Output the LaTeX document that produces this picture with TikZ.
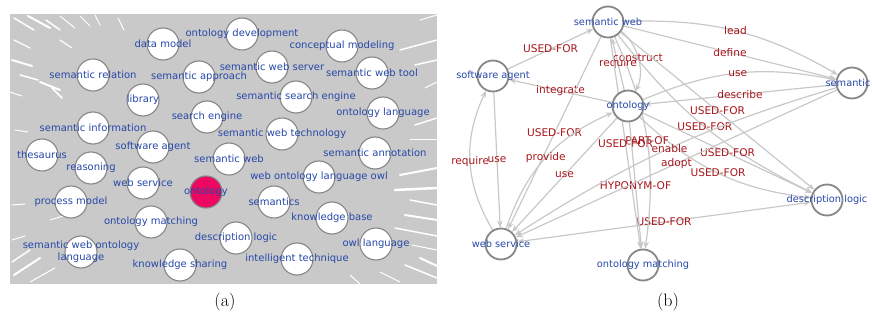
\documentclass[tikz,border=0pt]{standalone}
\usepackage{fontspec}
\newfontfamily\dv{DejaVu Sans}
\usetikzlibrary{arrows.meta,backgrounds}
\definecolor{bgray}{RGB}{201,201,201}
\definecolor{nblue}{RGB}{38,72,168}
\definecolor{lred}{RGB}{168,22,28}
\definecolor{egray}{RGB}{200,200,200}
\definecolor{cgray}{RGB}{135,135,135}
\definecolor{hotpink}{RGB}{236,8,96}
\begin{document}
\begin{tikzpicture}[x=1pt,y=1pt,
  anode/.style={circle, minimum size=32pt, inner sep=0pt, draw=cgray, line width=1.1pt, fill=white},
  atxt/.style={text=nblue, font=\dv\fontsize{10}{12}\selectfont, inner sep=0pt, align=center},
  bnode/.style={circle, minimum size=31pt, inner sep=0pt, draw=cgray, line width=1.8pt, fill=white},
  btxt/.style={text=nblue, font=\dv\fontsize{9.8}{12}\selectfont, inner sep=0pt},
  lbl/.style={text=lred, font=\dv\fontsize{10.6}{12}\selectfont, inner sep=0.5pt},
  edge/.style={draw=egray, line width=1.2pt, -{Stealth[length=7pt,width=5.5pt]}},
  streak/.style={draw=white, line cap=round},
  captxt/.style={font=\fontsize{18}{20}\selectfont}]
\useasboundingbox (0,0) rectangle (872,-323);

% ---------- panel (a) ----------
\fill[bgray] (10,-14) rectangle (437,-284);
\begin{scope}
\clip (10,-14) rectangle (437,-284);
\foreach \xa/\ya/\xb/\yb/\w in {
  14/18/34/30/1.5, 28/16/50/28/2, 46/20/60/30/1.5, 60/16/75/28/1, 80/16/90/26/1,
  14/40/30/48/1.2, 12/60/32/66/2, 20/75/38/80/1.5, 40/82/60/90/2, 52/88/62/98/1.5,
  10/92/22/96/1, 95/15/100/25/1, 118/18/124/30/1, 60/40/72/48/1.2, 15/130/28/132/1,
  12/205/25/204/1, 400/175/437/168/2, 395/190/437/188/2.5, 410/200/437/205/1.5,
  405/215/437/220/2, 395/228/437/236/1.5, 412/245/437/250/1, 420/258/437/266/2,
  405/265/437/278/1.5, 380/272/400/282/1, 350/275/360/284/1, 415/125/437/118/1.5,
  410/140/437/140/1, 425/88/437/82/1, 400/50/437/40/1.5, 415/65/437/60/1.5,
  420/20/437/15/1, 12/262/30/250/1.5, 14/275/40/258/2, 30/282/55/268/1,
  12/240/25/236/1, 50/220/70/214/1}
  \draw[streak, line width=\w pt] (\xa,-\ya) -- (\xb,-\yb);
\end{scope}

\node[anode, label={[atxt]center:data model}] (dm) at (163,-44) {};
\node[anode, label={[atxt]center:semantic relation}] (sr) at (93,-75) {};
\node[anode, label={[atxt]center:library}] (lib) at (143,-100) {};
\node[anode, label={[atxt]center:semantic approach}] (sap) at (199,-77) {};
\node[anode, label={[atxt]center:search engine}] (sen) at (207,-117) {};
\node[anode, label={[atxt]center:semantic information}] (si) at (93,-128) {};
\node[anode, label={[atxt]center:software agent}] (sag) at (153,-147) {};
\node[anode, label={[atxt]center:ontology development}] (od) at (242,-34) {};
\node[anode, label={[atxt]center:conceptual modeling}] (cm) at (342,-46) {};
\node[anode, label={[atxt]center:semantic web server}] (sws) at (272,-67) {};
\node[anode, label={[atxt]center:semantic web tool}] (swt) at (372,-73) {};
\node[anode, label={[atxt]center:semantic search engine}] (sse) at (296,-97) {};
\node[anode, label={[atxt]center:ontology language}] (ol) at (383,-113) {};
\node[anode, label={[atxt]center:semantic web technology}] (swtech) at (282,-134) {};
\node[anode, label={[atxt]center:semantic annotation}] (sann) at (375,-153) {};
\node[anode, label={[atxt]center:semantic web}] (swa) at (229,-159) {};
\node[anode, label={[atxt]center:web ontology language owl}] (wolo) at (319,-177) {};
\node[anode, label={[atxt]center:semantics}] (sem) at (274,-202) {};
\node[anode, label={[atxt]center:knowledge base}] (kb) at (332,-218) {};
\node[anode, label={[atxt]center:description logic}] (dla) at (236,-238) {};
\node[anode, label={[atxt]center:owl language}] (owl) at (376,-244) {};
\node[anode, label={[atxt]center:intelligent technique}] (it) at (297,-259) {};
\node[anode, label={[atxt]center:knowledge sharing}] (ks) at (180,-265) {};
\node[anode, fill=hotpink, label={[atxt]center:ontology}] (onta) at (206,-192) {};
\node[anode, label={[atxt]center:thesaurus}] (thes) at (42,-155) {};
\node[anode, label={[atxt]center:reasoning}] (reas) at (91,-168) {};
\node[anode, label={[atxt]center:web service}] (wsa) at (143,-183) {};
\node[anode, label={[atxt]center:process model}] (pm) at (71,-202) {};
\node[anode, label={[atxt]center:ontology matching}] (oma) at (151,-222) {};
\node[anode, label={[atxt]center:semantic web ontology\\language}] (swol) at (81,-252) {};

\node[captxt] (capa) at (225,-302) {(a)};

% ---------- panel (b) ----------
\node[bnode, label={[btxt]center:semantic web}] (sw) at (608,-22) {};
\node[bnode, label={[btxt]center:software agent}] (sa) at (493,-76) {};
\node[bnode, label={[btxt]center:ontology}] (on) at (628,-106) {};
\node[bnode, label={[btxt, xshift=-4pt]center:semantic}] (se) at (852,-83) {};
\node[bnode, label={[btxt]center:description logic}] (dl) at (827,-200) {};
\node[bnode, label={[btxt]center:web service}] (ws) at (501,-244) {};
\node[bnode, label={[btxt]center:ontology matching}] (om) at (643,-265) {};

\begin{pgfonlayer}{background}
\draw[edge] (sa) to node[lbl]{USED-FOR} (sw);
\draw[edge] (on) to node[lbl]{integrate} (sa);
\draw[edge] (ws) to[bend left=28] node[lbl]{require} (sa);
\draw[edge] (sa) to node[lbl]{use} (ws);
\draw[edge] (on) to node[lbl]{require} (sw);
\draw[edge] (sw) .. controls (636,-42) and (646,-70) .. node[lbl]{construct} (on);
\draw[edge] (sw) to[bend left=16] node[lbl]{lead} (se);
\draw[edge] (sw) to node[lbl]{define} (se);
\draw[edge] (on) to[bend left=17] node[lbl]{use} (se);
\draw[edge] (se) to node[lbl]{describe} (on);
\draw[edge] (sw) to node[lbl]{USED-FOR} (dl);
\draw[edge] (sw) to[bend right=13] node[lbl]{USED-FOR} (dl);
\draw[edge] (on) to node[lbl]{USED-FOR} (dl);
\draw[edge] (on) to[bend right=18] node[lbl]{USED-FOR} (dl);
\draw[edge, {Stealth[length=7pt,width=5.5pt]}-{Stealth[length=7pt,width=5.5pt]}] (ws) to node[lbl]{USED-FOR} (dl);
\draw[edge] (sw) to node[lbl]{USED-FOR} (ws);
\draw[edge] (sw) to node[lbl]{USED-FOR} (om);
\draw[edge] (sw) to[bend left=16] node[lbl]{PART-OF} (om);
\draw[edge] (on) to node[lbl]{HYPONYM-OF} (om);
\draw[edge] (se) to[bend right=8] node[lbl]{enable} (ws);
\draw[edge] (se) to node[lbl]{adopt} (ws);
\draw[edge] (ws) to[bend left=24] node[lbl]{provide} (on);
\draw[edge] (on) to node[lbl]{use} (ws);
\end{pgfonlayer}

\node[captxt] (capb) at (668,-302) {(b)};
\end{tikzpicture}
\end{document}
